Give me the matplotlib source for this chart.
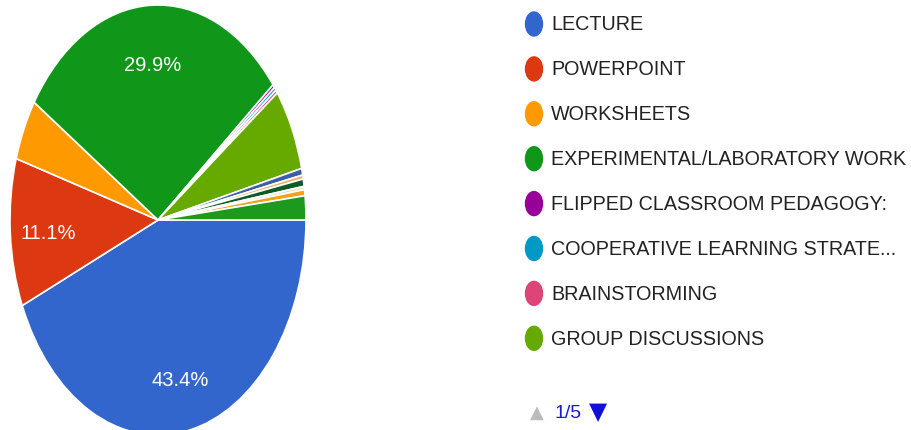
import numpy as np
import matplotlib.pyplot as plt
from matplotlib.patches import Ellipse

# data (percent shares, clockwise from 3 o'clock)
labels = ['LECTURE', 'POWERPOINT', 'WORKSHEETS', 'EXPERIMENTAL/LABORATORY WORK',
          'FLIPPED CLASSROOM PEDAGOGY:', 'COOPERATIVE LEARNING STRATE...',
          'BRAINSTORMING', 'GROUP DISCUSSIONS']
values = [43.4, 11.1, 4.6, 29.9, 0.25, 0.25, 0.25, 6.2]
colors = ['#3366cc', '#dc3912', '#ff9900', '#109618',
          '#990099', '#0099c6', '#dd4477', '#66aa00']
# remaining answers (legend pages 2-5) - small slices
other_values = [0.5, 0.3, 0.55, 0.25, 0.45, 1.8]
other_colors = ['#3a5fa8', '#f0b070', '#0d5c26', '#e8e4c8', '#f5a020', '#1d9a1d']
shown_pct = ['43.4%', '11.1%', '', '29.9%']

plt.rcParams['font.family'] = ['Liberation Sans', 'DejaVu Sans']

W, H = 912, 430
fig = plt.figure(figsize=(W / 100, H / 100), dpi=100)

# pie axes (the original is stretched vertically)
cx, cy, rx, ry = 158, 220, 148, 215
ax = fig.add_axes([(cx - rx) / W, (H - cy - ry) / H, 2 * rx / W, 2 * ry / H])
wedges, _ = ax.pie(values + other_values, colors=colors + other_colors,
                   startangle=0, counterclock=False,
                   wedgeprops=dict(edgecolor='white', linewidth=1.2))
ax.set_aspect('auto')
ax.set_xlim(-1, 1)
ax.set_ylim(-1, 1)
ax.axis('off')

# percentage labels
tot = sum(values) + sum(other_values)
ang = 0.0
for v, t in zip(values, shown_pct):
    mid = ang + v / tot * 360 / 2
    ang += v / tot * 360
    if t:
        a = np.deg2rad(-mid)
        ax.text(0.74 * np.cos(a), 0.74 * np.sin(a) - 0.02, t, color='white',
                fontsize=14.5, ha='center', va='center')

# legend drawn in pixel coordinates
lg = fig.add_axes([0, 0, 1, 1])
lg.set_xlim(0, W)
lg.set_ylim(H, 0)
lg.axis('off')
y0, dy = 24, 44.9
for i, (lab, c) in enumerate(zip(labels, colors)):
    y = y0 + i * dy
    lg.add_patch(Ellipse((534, y), 17, 24, color=c))
    lg.text(551, y + 1, lab, fontsize=14.2, color='#222222', va='center', ha='left')

# page navigator
lg.text(537, 413, '\u25b2', fontsize=13, color='#bbbbbb', ha='center', va='center',
        family='DejaVu Sans')
lg.text(555, 414, '1/5', fontsize=14, color='#1a1ad0', ha='left', va='center')
lg.text(598, 412, '\u25bc', fontsize=17, color='#1010d8', ha='center', va='center',
        family='DejaVu Sans')

fig.savefig('out.png', dpi=100, facecolor='white')
